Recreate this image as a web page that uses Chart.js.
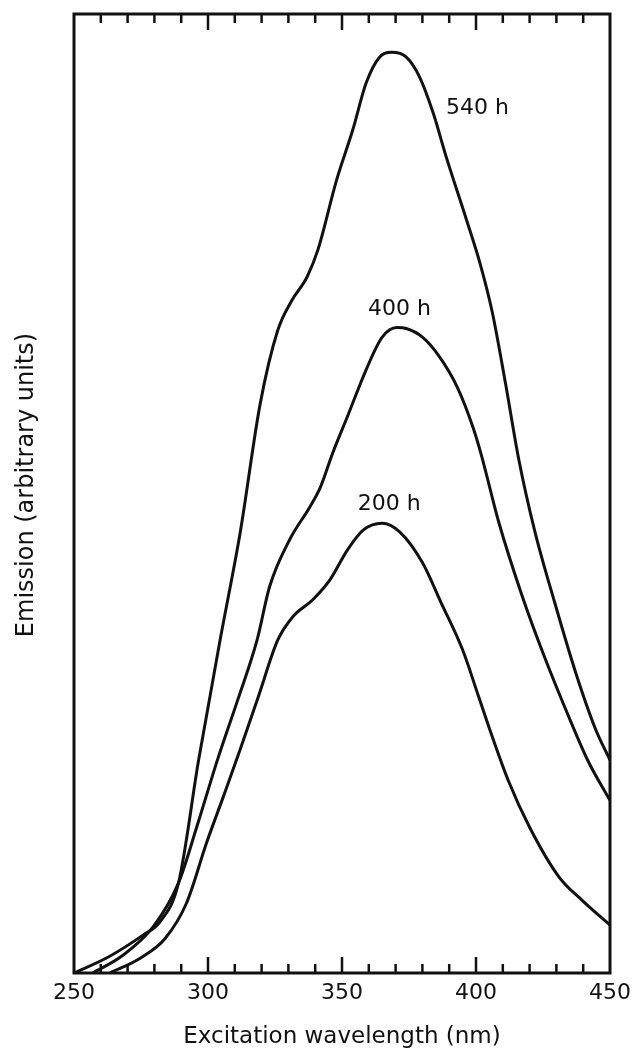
<!DOCTYPE html>
<html>
<head>
<meta charset="utf-8">
<script src="https://cdn.jsdelivr.net/npm/chart.js@4.4.1/dist/chart.umd.min.js"></script>
<style>
    html, body { margin: 0; padding: 0; background: #fff; }
    #chart { display: block; }
</style>
</head>
<body>
<canvas id="chart" width="632" height="1049"></canvas>
<script>
// wavelength (nm) / emission (arbitrary units, 0-100)
var wave540 = [250, 263, 276, 282, 289, 296.5, 304.5, 312, 319.5, 326, 331, 337, 341, 348, 354, 359, 364, 368.5, 374, 379, 384, 389, 396.5, 401.5, 406, 411, 416, 422, 429.5, 437, 444.5, 450];
var emis540 = [0, 1.7, 4.0, 5.3, 9.4, 22.2, 34.7, 45.9, 59.4, 67.0, 70.0, 72.6, 75.4, 82.7, 87.9, 92.8, 95.5, 96.0, 95.5, 93.4, 89.7, 85.0, 78.5, 74.0, 69.0, 61.5, 53.5, 46.0, 38.5, 31.5, 25.5, 22.2];

var wave400 = [257, 268, 279.5, 289, 296, 303.5, 311, 318.3, 323, 330.5, 338, 342, 346.5, 352, 359, 365, 370.5, 374, 380, 386, 393, 399, 402, 408.5, 417, 425.5, 436, 442, 450];
var emis400 = [0, 1.8, 4.8, 9.4, 15.4, 22.2, 28.4, 34.7, 40.3, 45.2, 48.6, 50.7, 54.2, 58.0, 62.9, 66.3, 67.3, 67.2, 66.3, 64.4, 61.1, 56.8, 54.0, 47.0, 39.5, 33.0, 25.8, 22.0, 18.0];

var wave200 = [263.5, 275, 284, 292, 299.5, 306, 312, 319, 326, 331.5, 339, 345.5, 352, 358, 365, 371.5, 380, 387, 395, 401, 405, 412, 420, 431, 439.5, 450];
var emis200 = [0, 1.6, 3.6, 7.3, 13.6, 18.6, 23.3, 29.0, 34.7, 37.1, 38.9, 41.0, 44.1, 46.2, 46.9, 46.0, 42.8, 38.6, 33.7, 28.8, 25.5, 20.1, 15.2, 10.0, 7.6, 5.0];

var xTicks = [250, 300, 350, 400, 450];
var curveLabels = ['540 h', '400 h', '200 h'];
// where each label starts, in data units [nm, emission]
var labelPos = [[388.8, 90.2], [359.7, 69.2], [355.9, 48.9]];

var FONT = 'DejaVu Sans';

function toPoints(xs, ys) {
    var pts = [];
    for (var i = 0; i < xs.length; i++) {
        pts.push({ x: xs[i], y: ys[i] });
    }
    return pts;
}

function curve(label, xs, ys) {
    return {
        label: label,
        data: toPoints(xs, ys),
        borderColor: '#111',
        borderWidth: 3,
        pointRadius: 0,
        fill: false,
        cubicInterpolationMode: 'monotone'
    };
}

// frame, inward ticks, curve labels and the y title
var framePlugin = {
    id: 'frame',
    afterDraw: function (chart) {
        var ctx = chart.ctx;
        var a = chart.chartArea;
        var xs = chart.scales.x;
        var ys = chart.scales.y;
        ctx.save();
        ctx.strokeStyle = '#111';
        ctx.lineWidth = 3;
        ctx.strokeRect(a.left, a.top, a.right - a.left, a.bottom - a.top);

        ctx.lineWidth = 2.5;
        for (var v = 260; v < 450; v += 10) {
            var px = xs.getPixelForValue(v);
            var len = (v % 50 === 0) ? 16 : 9;
            ctx.beginPath();
            ctx.moveTo(px, a.bottom);
            ctx.lineTo(px, a.bottom - len);
            ctx.moveTo(px, a.top);
            ctx.lineTo(px, a.top + len);
            ctx.stroke();
        }

        ctx.fillStyle = '#111';
        ctx.font = '22px "' + FONT + '"';
        ctx.textAlign = 'left';
        ctx.textBaseline = 'middle';
        for (var i = 0; i < curveLabels.length; i++) {
            ctx.fillText(curveLabels[i], xs.getPixelForValue(labelPos[i][0]), ys.getPixelForValue(labelPos[i][1]));
        }

        ctx.translate(27, 485);
        ctx.rotate(-Math.PI / 2);
        ctx.textAlign = 'center';
        ctx.font = '24px "' + FONT + '"';
        ctx.fillText('Emission (arbitrary units)', 0, 0);
        ctx.restore();
    }
};

var myChart = new Chart(document.getElementById('chart'), {
    type: 'line',
    data: {
        datasets: [
            curve('540 h', wave540, emis540),
            curve('400 h', wave400, emis400),
            curve('200 h', wave200, emis200)
        ]
    },
    options: {
        responsive: false,
        animation: false,
        devicePixelRatio: 1,
        layout: {
            padding: { left: 0, right: 22, top: 14, bottom: 0 }
        },
        plugins: {
            legend: { display: false },
            tooltip: { enabled: false }
        },
        scales: {
            x: {
                type: 'linear',
                min: 250,
                max: 450,
                afterFit: function (s) {
                    s.height = 76;
                    s.paddingLeft = 0;
                    s.paddingRight = 0;
                },
                afterBuildTicks: function (s) {
                    s.ticks = xTicks.map(function (v) { return { value: v }; });
                },
                grid: { display: false, drawTicks: false },
                border: { display: false },
                ticks: {
                    color: '#111',
                    font: { family: FONT, size: 22 },
                    padding: 7,
                    maxRotation: 0,
                    autoSkip: false
                },
                title: {
                    display: true,
                    text: 'Excitation wavelength (nm)',
                    color: '#111',
                    font: { family: FONT, size: 23, lineHeight: 1 },
                    padding: { top: 0, bottom: 0 }
                }
            },
            y: {
                type: 'linear',
                min: 0,
                max: 100,
                afterFit: function (s) { s.width = 74; },
                grid: { display: false, drawTicks: false },
                border: { display: false },
                ticks: { display: false }
            }
        }
    },
    plugins: [framePlugin]
});
</script>
</body>
</html>
